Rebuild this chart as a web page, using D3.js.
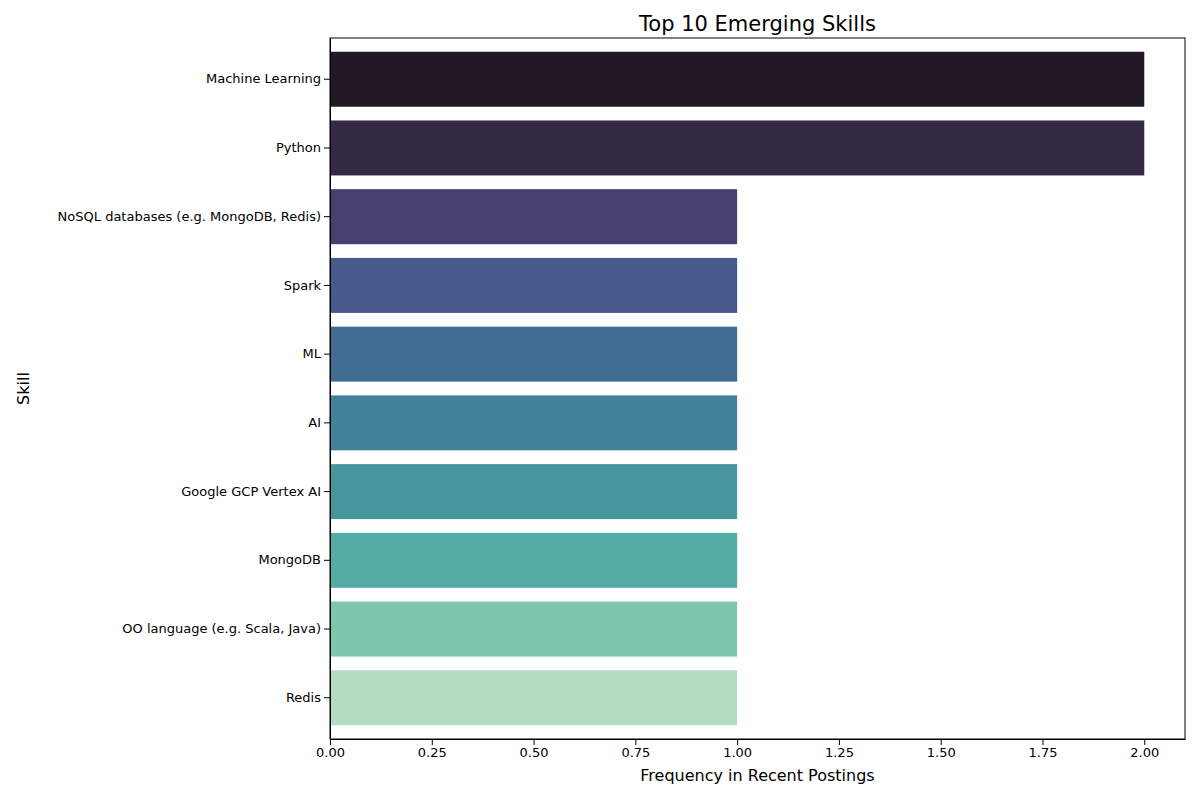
<!DOCTYPE html>
<html>
<head>
<meta charset="utf-8">
<script src="https://cdn.jsdelivr.net/npm/d3@7"></script>
<style>body{margin:0;background:#fff}text{font-family:"DejaVu Sans",sans-serif}</style>
</head>
<body>
<div id="chart"></div>
<script>
// data
const skills = ["Machine Learning", "Python", "NoSQL databases (e.g. MongoDB, Redis)", "Spark", "ML", "AI",
  "Google GCP Vertex AI", "MongoDB", "OO language (e.g. Scala, Java)", "Redis"];
const counts = [2, 2, 1, 1, 1, 1, 1, 1, 1, 1];
const colors = ["#231826", "#352a45", "#46406f", "#485a8c", "#426e94", "#43829a",
  "#46969c", "#53ada4", "#7dc7aa", "#b4dcc3"];
const xTicks = [0, 0.25, 0.5, 0.75, 1, 1.25, 1.5, 1.75, 2];

let width = 1200, height = 800;
let margin = {top: 38, right: 15, bottom: 61, left: 330};

let svg = d3.select("#chart").append("svg")
  .attr("width", width).attr("height", height);

let x = d3.scaleLinear().domain([0, 2.1]).range([margin.left, width - margin.right]);
let y = d3.scaleBand().domain(skills).range([margin.top, height - margin.bottom]).padding(0.2);

svg.selectAll("rect.bar")
  .data(skills)
  .enter()
  .append("rect")
  .attr("x", x(0))
  .attr("y", d => y(d))
  .attr("width", (d, i) => x(counts[i]) - x(0))
  .attr("height", y.bandwidth())
  .attr("fill", (d, i) => colors[i]);

// axes
let xAxis = svg.append("g")
  .attr("transform", "translate(0," + (height - margin.bottom) + ")")
  .call(d3.axisBottom(x).tickValues(xTicks).tickFormat(d3.format(".2f")).tickSizeOuter(0));
let yAxis = svg.append("g")
  .attr("transform", "translate(" + margin.left + ",0)")
  .call(d3.axisLeft(y).tickSizeOuter(0));
[xAxis, yAxis].forEach(g => {
  g.selectAll("text").style("font-size", "13px").attr("fill", "#000");
  g.selectAll("line").attr("stroke", "#000");
  g.select(".domain").attr("stroke", "#000");
});

// frame top/right
svg.append("rect")
  .attr("x", margin.left).attr("y", margin.top)
  .attr("width", width - margin.right - margin.left)
  .attr("height", height - margin.bottom - margin.top)
  .attr("fill", "none").attr("stroke", "#000").attr("stroke-width", 1);

svg.append("text")
  .attr("x", (margin.left + width - margin.right) / 2).attr("y", 31)
  .attr("text-anchor", "middle").style("font-size", "21px")
  .text("Top 10 Emerging Skills");

svg.append("text")
  .attr("x", (margin.left + width - margin.right) / 2).attr("y", 781)
  .attr("text-anchor", "middle").style("font-size", "16px")
  .text("Frequency in Recent Postings");

svg.append("text")
  .attr("transform", "translate(29," + ((margin.top + height - margin.bottom) / 2) + ") rotate(-90)")
  .attr("text-anchor", "middle").style("font-size", "16px")
  .text("Skill");
</script>
</body>
</html>
